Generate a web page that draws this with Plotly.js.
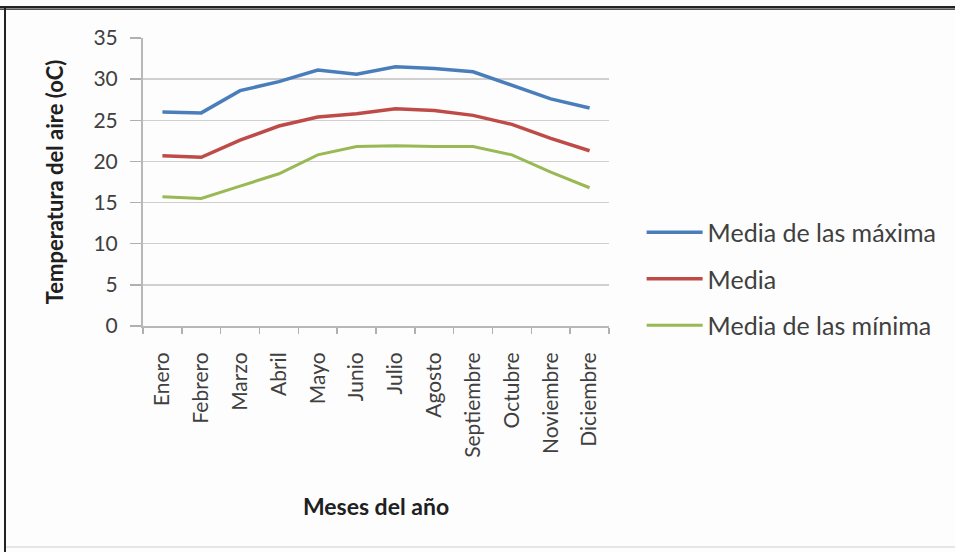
<!DOCTYPE html>
<html>
<head>
<meta charset="utf-8">
<script src="https://cdn.plot.ly/plotly-3.0.1.min.js"></script>
<style>
  html, body { margin: 0; padding: 0; background: #ffffff; }
  #wrap { position: relative; width: 955px; height: 552px; overflow: hidden; background: #fdfdfd; }
  #chart { position: absolute; left: 0; top: 0; width: 955px; height: 552px; }
  .bt { position: absolute; left: 0; top: 6px; width: 955px; height: 4px; border-top: 2px solid #222; border-bottom: 1px solid #555; box-sizing: border-box; background: #888; }
  .bl { position: absolute; left: 4px; top: 8px; width: 2px; height: 544px; background: #222; }
  .bb { position: absolute; left: 6px; top: 546px; width: 949px; height: 2px; background: #e6e6e6; }
</style>
</head>
<body>
<div id="wrap">
  <div id="chart"></div>
  <div class="bt"></div>
  <div class="bl"></div>
  <div class="bb"></div>
</div>
<script>
const meses = ["Enero", "Febrero", "Marzo", "Abril", "Mayo", "Junio", "Julio", "Agosto", "Septiembre", "Octubre", "Noviembre", "Diciembre"];
const mediaMaximas = [26.0, 25.9, 28.6, 29.7, 31.1, 30.6, 31.5, 31.3, 30.9, 29.3, 27.6, 26.5];
const media = [20.7, 20.5, 22.6, 24.3, 25.4, 25.8, 26.4, 26.2, 25.6, 24.5, 22.8, 21.3];
const mediaMinimas = [15.7, 15.5, 17.0, 18.5, 20.8, 21.8, 21.9, 21.8, 21.8, 20.8, 18.7, 16.8];
const yTicks = [0, 5, 10, 15, 20, 25, 30, 35];

const font = "Lato, 'Open Sans', sans-serif";

const traces = [
  { x: meses, y: mediaMaximas, name: "Media de las máxima", legendgroup: "a", type: "scatter", mode: "lines",
    line: { color: "#4a7ebb", width: 3.5 } },
  { x: meses, y: media, name: "Media", legendgroup: "b", type: "scatter", mode: "lines",
    line: { color: "#be4b48", width: 3.5 } },
  { x: meses, y: mediaMinimas, name: "Media de las mínima", legendgroup: "c", type: "scatter", mode: "lines",
    line: { color: "#98b954", width: 3 } }
];

const layout = {
  width: 955, height: 552,
  margin: { l: 143, r: 346, t: 38, b: 226 },
  paper_bgcolor: "rgba(0,0,0,0)",
  plot_bgcolor: "rgba(0,0,0,0)",
  font: { family: font, color: "#404040" },
  showlegend: true,
  legend: {
    x: 1.07, xanchor: "left", y: 0.163, yanchor: "middle",
    font: { family: font, size: 25, color: "#404040" },
    traceorder: "grouped", tracegroupgap: 11,
    itemwidth: 56,
    bgcolor: "rgba(0,0,0,0)"
  },
  xaxis: {
    type: "category",
    range: [-0.5, 11.5],
    tickson: "boundaries",
    ticks: "outside", ticklen: 6, tickwidth: 1.5, tickcolor: "#b0b0b0",
    showgrid: false,
    showline: true, linecolor: "#b8b8b8", linewidth: 2,
    tickangle: -90,
    ticklabelstandoff: 16,
    tickfont: { family: font, size: 21, color: "#404040" },
    title: { text: "Meses del año", font: { family: font, size: 23, color: "#202020", weight: "bold" }, standoff: 42 },
    automargin: false,
    fixedrange: true
  },
  yaxis: {
    range: [0, 35],
    tickvals: yTicks,
    ticktext: yTicks.map(String),
    ticks: "outside", ticklen: 11, tickwidth: 1.5, tickcolor: "#b0b0b0",
    showgrid: true, gridcolor: "#d0d0d0", gridwidth: 1.5,
    zeroline: false,
    showline: true, linecolor: "#b8b8b8", linewidth: 2,
    ticklabelstandoff: 8,
    tickfont: { family: font, size: 21, color: "#404040" },
    title: { text: "Temperatura del aire (oC)", font: { family: font, size: 22, color: "#202020", weight: "bold" }, standoff: 24 },
    automargin: false,
    fixedrange: true
  }
};

Plotly.newPlot("chart", traces, layout, { staticPlot: true, displayModeBar: false });
</script>
</body>
</html>
